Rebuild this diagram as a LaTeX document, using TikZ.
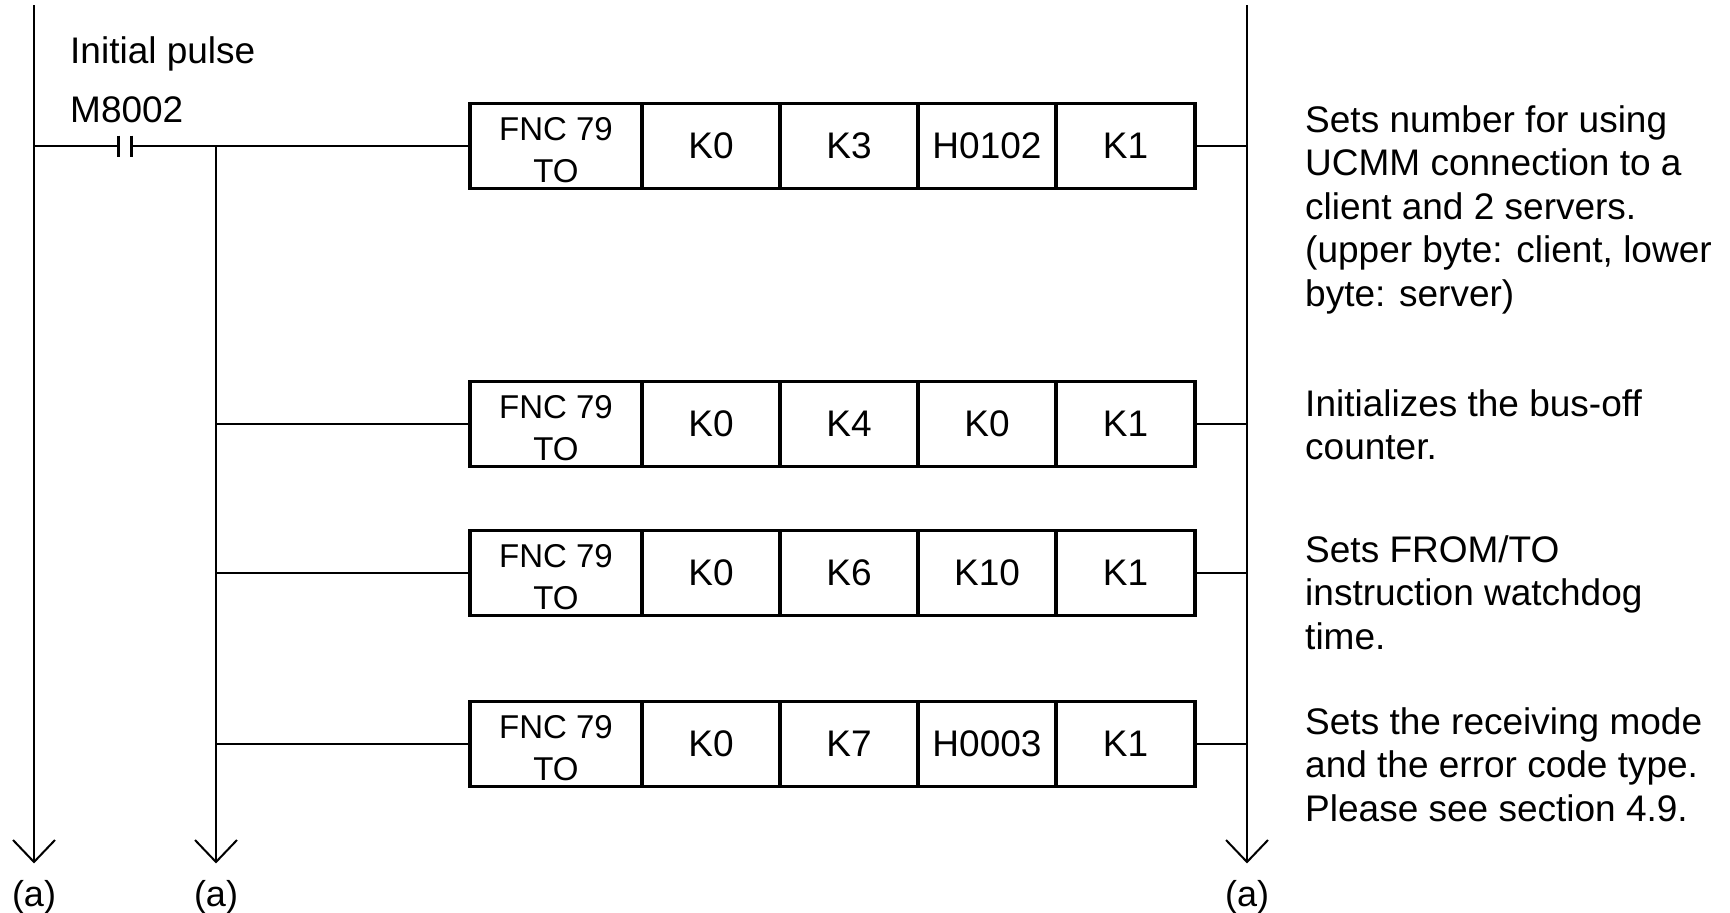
\documentclass[tikz,border=0pt]{standalone}
\usepackage{fontspec}
\setmainfont{Liberation Sans}
\begin{document}
\begin{tikzpicture}[x=1pt,y=-1pt,
  rail/.style={line width=2.5pt},
  rung/.style={line width=2pt},
  plate/.style={line width=3pt},
  barb/.style={line width=2pt},
  cellbox/.style={draw, line width=3.6pt, minimum height=85pt, inner sep=0pt,
    font=\fontsize{37}{44}\selectfont},
  fnctext/.style={align=center, inner sep=0pt, anchor=north,
    font=\fontsize{33}{42}\selectfont},
  note/.style={anchor=north west, inner sep=0pt, align=left,
    font=\fontsize{37}{43.5}\selectfont},
  lbl/.style={anchor=north west, inner sep=0pt, font=\fontsize{37}{44}\selectfont},
  alabel/.style={anchor=north, inner sep=0pt, font=\fontsize{36}{44}\selectfont}
]
\useasboundingbox (0,0) rectangle (1730,913);

% rails
\coordinate (Ltop) at (34,5);
\coordinate (Lbot) at (34,862);
\coordinate (Btop) at (216,146);
\coordinate (Bbot) at (216,862);
\coordinate (Rtop) at (1247,5);
\coordinate (Rbot) at (1247,862);
\draw[rail] (Ltop) -- (Lbot);
\draw[rail] (Btop) -- (Bbot);
\draw[rail] (Rtop) -- (Rbot);
\foreach \p in {Lbot,Bbot,Rbot}{
  \draw[barb] (\p) ++(-21,-22) -- (\p) -- ++(21,-22);
}
\node[alabel] (aL) at (34,880) {(a)};
\node[alabel] (aB) at (216,880) {(a)};
\node[alabel] (aR) at (1247,880) {(a)};

% labels
\node[lbl] (ip) at (70,36) {Initial pulse};
\node[lbl] (m8) at (70,96) {M8002};

% contact
\coordinate (L1) at (34,146);
\coordinate (k1) at (118,146);
\coordinate (k2) at (131,146);
\draw[rung] (L1) -- (k1);
\draw[plate] (k1) ++(0,-10.5) -- ++(0,21);
\draw[plate] (k2) ++(0,-10.5) -- ++(0,21);

% instruction boxes
\foreach \i/\y/\s/\d in {1/146/K3/H0102, 2/424/K4/K0, 3/573/K6/K10, 4/744/K7/H0003}{
  \node[cellbox, minimum width=172pt] (c\i a) at (556,\y) {};
  \node[cellbox, minimum width=138pt] (c\i b) at (711,\y) {K0};
  \node[cellbox, minimum width=138pt] (c\i c) at (849,\y) {\s};
  \node[cellbox, minimum width=138pt] (c\i d) at (987,\y) {\d};
  \node[cellbox, minimum width=139pt] (c\i e) at (1125.5,\y) {K1};
  \node[fnctext] (f\i) at ([yshift=29pt]c\i a.center) {FNC 79\\TO};
  \coordinate (r\i) at (1247,\y);
  \draw[rung] (c\i e.east) -- (r\i);
}
\draw[rung] (k2) -- (c1a.west);
\foreach \i/\y in {2/424,3/573,4/744}{
  \coordinate (b\i) at (216,\y);
  \draw[rung] (b\i) -- (c\i a.west);
}

% notes
\node[note] (n1) at (1305,105) {Sets number for using\\UCMM connection to a\\client and 2 servers.\\(upper byte: client, lower\\byte: server)};
\node[note] (n2) at (1305,389) {Initializes the bus-off\\counter.};
\node[note] (n3) at (1305,535) {Sets FROM/TO\\instruction watchdog\\time.};
\node[note] (n4) at (1305,707) {Sets the receiving mode\\and the error code type.\\Please see section 4.9.};
\end{tikzpicture}
\end{document}
